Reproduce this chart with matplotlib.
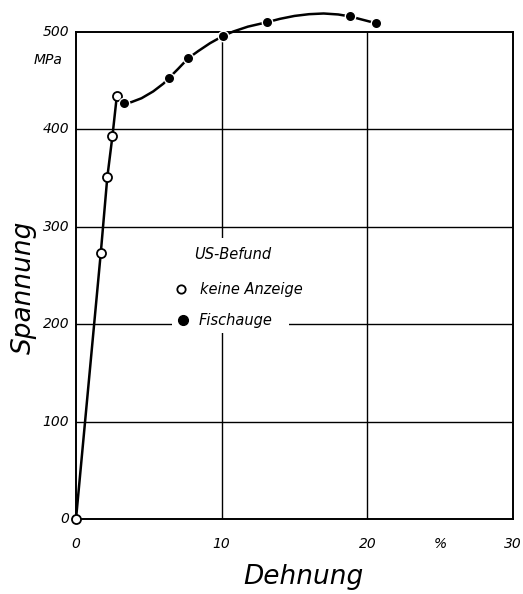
import matplotlib
matplotlib.use("Agg")
import matplotlib.pyplot as plt
from matplotlib.patches import Rectangle

# Data
open_strain = [0.0, 1.7, 2.15, 2.5, 2.8]
open_stress = [0, 273, 351, 393, 434]
filled_strain = [3.3, 6.4, 7.7, 10.1, 13.1, 18.8, 20.6]
filled_stress = [427, 453, 473, 496, 510, 516, 509]
# drawn curve
curve_strain = [0.0, 1.7, 2.15, 2.5, 2.8, 3.3, 3.8, 4.5, 5.3, 6.0, 6.4, 7.0,
                7.7, 8.4, 9.2, 10.1, 10.8, 11.8, 13.1, 14.0, 15.0, 16.0,
                17.0, 18.0, 18.8, 19.7, 20.6]
curve_stress = [0, 273, 351, 393, 434, 427, 428, 432, 439, 447, 453, 462,
                473, 480.5, 488.5, 496, 500.5, 505.5, 510, 513.5, 516.5, 518.3,
                519, 518, 516, 512.5, 509]
x_ticks = [0, 10, 20, 30]
y_ticks = [0, 100, 200, 300, 400, 500]

plt.rcParams['font.family'] = ['DejaVu Sans']
fig = plt.figure(figsize=(5.23, 5.94), dpi=100)
ax = fig.add_axes([76/523, 75/594, 437/523, 487/594])
ax.set_xlim(0, 30)
ax.set_ylim(0, 500)

for x in x_ticks[1:-1]:
    ax.axvline(x, color='black', lw=1.0, zorder=1)
for y in y_ticks[1:-1]:
    ax.axhline(y, color='black', lw=1.0, zorder=1)
for s in ax.spines.values():
    s.set_linewidth(1.4)

ax.set_xticks([])
ax.set_yticks([])
tk = dict(fontsize=10, style='italic', color='black')
for x in x_ticks:
    ax.text(x, -18, str(x), ha='center', va='top', **tk)
ax.text(25, -18, '%', ha='center', va='top', **tk)
for y in y_ticks:
    ax.text(-0.45, y, str(y), ha='right', va='center', **tk)
ax.text(-0.9, 471, 'MPa', ha='right', va='center', **tk)

# legend box
ax.add_patch(Rectangle((6.6, 191), 8.0, 97, facecolor='white', edgecolor='none', zorder=2))

ax.plot(curve_strain, curve_stress, color='black', lw=1.8, zorder=3, clip_on=False,
        solid_capstyle='round', solid_joinstyle='round')
ax.plot(open_strain, open_stress, 'o', ms=6.5, mfc='white', mec='black', mew=1.3,
        zorder=4, clip_on=False)
ax.plot(filled_strain, filled_stress, 'o', ms=7.5, mfc='black', mec='white', mew=1.0,
        zorder=4, clip_on=False)

lt = dict(fontsize=10.5, style='italic', color='black', zorder=5)
ax.text(8.1, 272, 'US-Befund', ha='left', va='center', **lt)
ax.plot([7.2], [236], 'o', ms=6, mfc='white', mec='black', mew=1.3, zorder=5)
ax.text(8.5, 236, 'keine Anzeige', ha='left', va='center', **lt)
ax.plot([7.35], [204], 'o', ms=7, mfc='black', mec='black', zorder=5)
ax.text(8.45, 204, 'Fischauge', ha='left', va='center', **lt)

fig.text(303/523, 1 - 577/594, 'Dehnung', ha='center', va='center',
         fontsize=19, style='italic')
fig.text(24/523, 1 - 287/594, 'Spannung', ha='center', va='center',
         fontsize=19, style='italic', rotation=90)

fig.savefig('out.png', dpi=100)
